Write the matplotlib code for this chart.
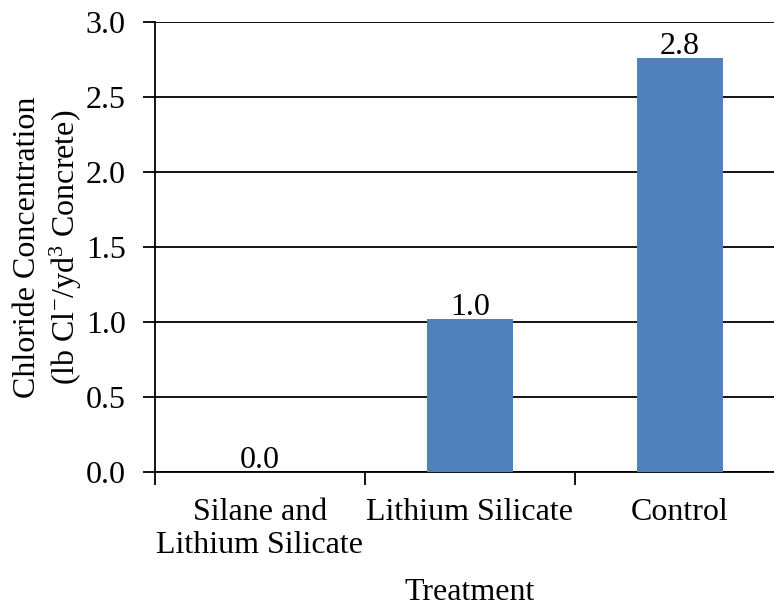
import matplotlib
matplotlib.use("Agg")
import matplotlib.pyplot as plt

plt.rcParams['font.family'] = ['Liberation Serif', 'DejaVu Serif']
plt.rcParams['mathtext.fontset'] = 'custom'
plt.rcParams['mathtext.rm'] = 'Liberation Serif'
plt.rcParams['mathtext.it'] = 'Liberation Serif'

treatments = ["Silane and\nLithium Silicate", "Lithium Silicate", "Control"]
chloride = [0.0, 1.02, 2.76]
yticks = [0.0, 0.5, 1.0, 1.5, 2.0, 2.5, 3.0]

fs = 23

fig = plt.figure(figsize=(7.74, 6.08), dpi=100)
# plot area runs past the right edge of the figure
ax = fig.add_axes([155 / 774, 1 - 472 / 608, 630 / 774, 450 / 608])

x = range(len(treatments))
bars = ax.bar(x, chloride, width=0.405, color='#4F81BD', zorder=3)
ax.bar_label(bars, labels=[f"{v:.1f}" for v in chloride], padding=-2, fontsize=fs)

ax.set_xlim(-0.5, 2.5)
ax.set_ylim(0, 3.0)
ax.set_yticks(yticks)
ax.set_yticklabels([f"{t:.1f}" for t in yticks], fontsize=fs)
ax.set_xticks([-0.5, 0.5, 1.5], minor=False)
ax.set_xticklabels([])
ax.set_xticks(list(x), minor=True)
ax.set_xticklabels(treatments, minor=True, fontsize=fs, linespacing=1.15)
ax.tick_params(axis='x', which='minor', length=0, pad=19)
ax.tick_params(axis='x', which='major', length=9, width=1.3, direction='out')
ax.tick_params(axis='y', length=9, width=1.3, direction='out', pad=12)

ax.grid(axis='y', color='black', linewidth=1.3, zorder=0)
ax.set_axisbelow(True)
for side in ['top', 'right']:
    ax.spines[side].set_visible(False)
ax.spines['left'].set_linewidth(1.3)
ax.spines['bottom'].set_linewidth(1.3)

ax.set_ylabel("Chloride Concentration\n(lb Cl$^{-}$/yd$^{3}$ Concrete)", fontsize=fs,
              linespacing=1.2)
ax.yaxis.set_label_coords(-(155 - 84) / 630, 0.5)
fig.text(470 / 774, 1 - 592 / 608, "Treatment", fontsize=fs, ha='center', va='center')

fig.savefig("out.png", dpi=100)
plt.close()
